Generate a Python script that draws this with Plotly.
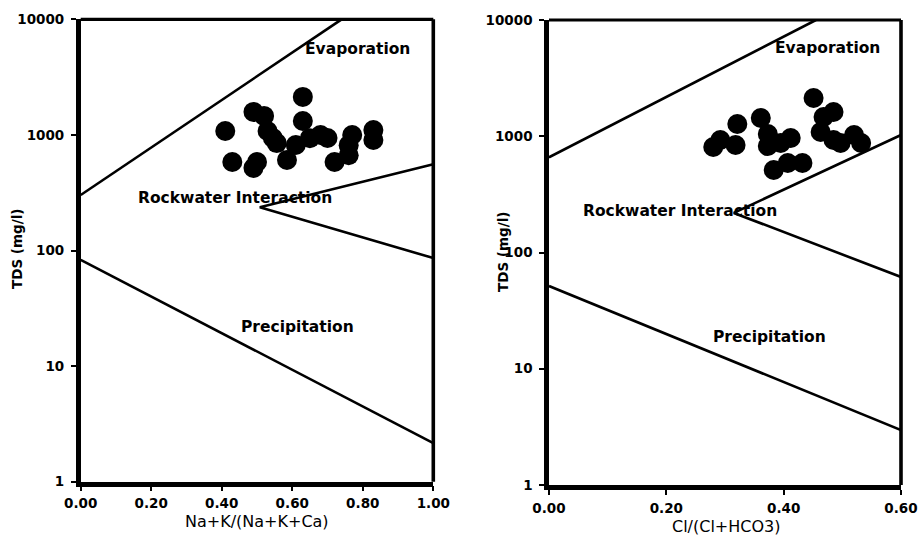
import plotly.graph_objects as go

# ---------------- data ----------------
# Left panel: Na+K/(Na+K+Ca) vs TDS
left_x = [0.41, 0.49, 0.52, 0.63, 0.53, 0.545, 0.556, 0.43, 0.49, 0.50, 0.585, 0.63,
          0.61, 0.65, 0.68, 0.70, 0.72, 0.76, 0.76, 0.77, 0.83, 0.83]
left_tds = [1080, 1580, 1460, 2130, 1080, 940, 850, 583, 518, 583, 607, 1320,
            818, 937, 998, 940, 583, 667, 815, 998, 1100, 904]

# Right panel: Cl/(Cl+HCO3) vs TDS
right_x = [0.280, 0.292, 0.318, 0.321, 0.361, 0.373, 0.373, 0.412, 0.451, 0.383,
           0.407, 0.432, 0.463, 0.468, 0.485, 0.485, 0.520, 0.532, 0.497, 0.395]
right_tds = [809, 929, 841, 1274, 1435, 1045, 824, 966, 2133, 513,
             589, 589, 1089, 1465, 1617, 929, 1025, 875, 875, 875]

# Gibbs boundary lines (x, TDS)
left_upper_x, left_upper_y = [0.0, 0.74], [302, 10000]
left_wedge_x, left_wedge_y = [1.0, 0.508, 1.0], [558, 237, 86]
left_lower_x, left_lower_y = [0.0, 1.0], [83, 2.16]

right_upper_x, right_upper_y = [0.0, 0.455], [660, 10000]
right_wedge_x, right_wedge_y = [0.6, 0.315, 0.6], [1026, 219, 61.6]
right_lower_x, right_lower_y = [0.0, 0.6], [51.5, 2.97]

y_tickvals = [1, 10, 100, 1000, 10000]
y_ticktext = ["1", "10", "100", "1000", "10000"]
left_xticks = [0.0, 0.2, 0.4, 0.6, 0.8, 1.0]
right_xticks = [0.0, 0.2, 0.4, 0.6]

# ---------------- figure ----------------
W, H = 922, 537
fig = go.Figure()

LINE = dict(color="black", width=2.6)
MARK = dict(color="black", size=20, symbol="circle", line=dict(width=0))

for xs, ys in [(left_upper_x, left_upper_y), (left_wedge_x, left_wedge_y), (left_lower_x, left_lower_y)]:
    fig.add_trace(go.Scatter(x=xs, y=ys, mode="lines", line=LINE, xaxis="x", yaxis="y",
                             showlegend=False, hoverinfo="skip"))
fig.add_trace(go.Scatter(x=left_x, y=left_tds, mode="markers", marker=MARK, xaxis="x", yaxis="y",
                         showlegend=False, cliponaxis=False))

for xs, ys in [(right_upper_x, right_upper_y), (right_wedge_x, right_wedge_y), (right_lower_x, right_lower_y)]:
    fig.add_trace(go.Scatter(x=xs, y=ys, mode="lines", line=LINE, xaxis="x2", yaxis="y2",
                             showlegend=False, hoverinfo="skip"))
fig.add_trace(go.Scatter(x=right_x, y=right_tds, mode="markers", marker=MARK, xaxis="x2", yaxis="y2",
                         showlegend=False, cliponaxis=False))

XTICKFONT = dict(family="DejaVu Sans", size=13.5, color="black", weight="bold")
YTICKFONT = dict(family="DejaVu Sans", size=13.5, color="black", weight="bold")
axis_common = dict(showline=True, linecolor="black", linewidth=4.5, mirror=False,
                   ticks="outside", ticklen=5, tickwidth=2, tickcolor="black",
                   showgrid=False, zeroline=False, automargin=False)

fig.update_layout(
    template="none",
    width=W, height=H,
    margin=dict(l=0, r=0, t=0, b=0, pad=0),
    paper_bgcolor="white", plot_bgcolor="white",
    xaxis=dict(domain=[80.7 / W, 433.3 / W], range=[0, 1], tickvals=left_xticks,
               tickformat=".2f", anchor="y", tickfont=XTICKFONT, **axis_common),
    yaxis=dict(domain=[1 - 481.7 / H, 1 - 19.3 / H], type="log", range=[0, 4],
               tickvals=y_tickvals, ticktext=y_ticktext, anchor="x", tickfont=YTICKFONT,
               ticklabelstandoff=4, **axis_common),
    xaxis2=dict(domain=[549 / W, 901 / W], range=[0, 0.6], tickvals=right_xticks,
                tickformat=".2f", anchor="y2", tickfont=XTICKFONT, ticklabelstandoff=2, **axis_common),
    yaxis2=dict(domain=[1 - 485 / H, 1 - 20 / H], type="log", range=[0, 4],
                tickvals=y_tickvals, ticktext=y_ticktext, anchor="x2", tickfont=YTICKFONT,
                ticklabelstandoff=4, **axis_common),
)

# top and right frame lines (thinner than the main axes)
for xa, ya in [("x", "y"), ("x2", "y2")]:
    fig.add_shape(type="line", xref=f"{xa} domain", yref=f"{ya} domain", x0=0, x1=1, y0=1, y1=1,
                  line=dict(color="black", width=3.2))
    fig.add_shape(type="line", xref=f"{xa} domain", yref=f"{ya} domain", x0=1, x1=1, y0=0, y1=1,
                  line=dict(color="black", width=3.6))

LBL = dict(family="DejaVu Sans", size=15.5, color="black", weight="bold")
annos = [
    dict(x=0.784, y=3.743, xref="x", yref="y", text="Evaporation"),
    dict(x=0.438, y=2.452, xref="x", yref="y", text="Rockwater Interaction"),
    dict(x=0.616, y=1.338, xref="x", yref="y", text="Precipitation"),
    dict(x=0.474, y=3.759, xref="x2", yref="y2", text="Evaporation"),
    dict(x=0.224, y=2.357, xref="x2", yref="y2", text="Rockwater Interaction"),
    dict(x=0.376, y=1.273, xref="x2", yref="y2", text="Precipitation"),
]
for a in annos:
    fig.add_annotation(showarrow=False, font=LBL, xanchor="center", yanchor="middle", **a)

TITLE = dict(family="DejaVu Sans", size=16, color="black")
fig.add_annotation(x=257 / W, y=1 - 521 / H, xref="paper", yref="paper", text="Na+K/(Na+K+Ca)",
                   showarrow=False, font=TITLE, xanchor="center", yanchor="middle")
fig.add_annotation(x=726 / W, y=1 - 526 / H, xref="paper", yref="paper", text="Cl/(Cl+HCO3)",
                   showarrow=False, font=TITLE, xanchor="center", yanchor="middle")
YT = dict(family="DejaVu Sans", size=13.5, color="black", weight="bold")
fig.add_annotation(x=17 / W, y=1 - 249 / H, xref="paper", yref="paper", text="TDS (mg/l)",
                   showarrow=False, font=YT, textangle=-90, xanchor="center", yanchor="middle")
fig.add_annotation(x=503 / W, y=1 - 252 / H, xref="paper", yref="paper", text="TDS (mg/l)",
                   showarrow=False, font=YT, textangle=-90, xanchor="center", yanchor="middle")

fig.write_html("out.html")
